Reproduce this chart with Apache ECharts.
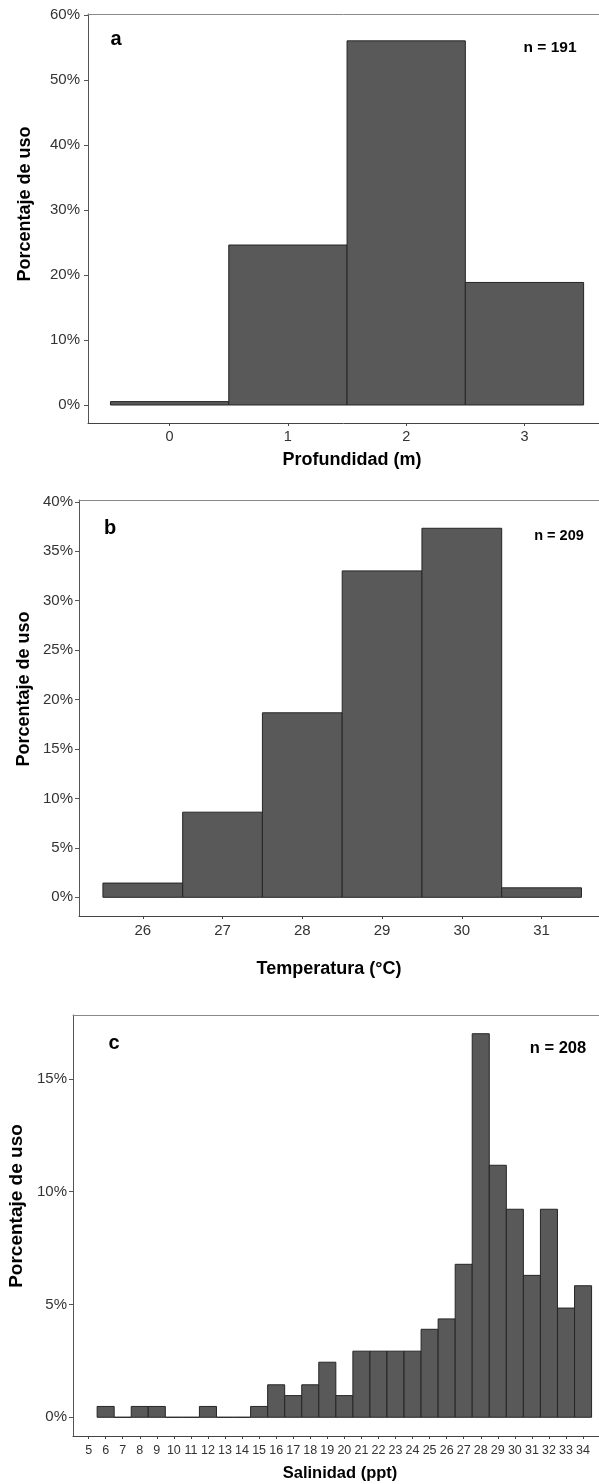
<!DOCTYPE html>
<html><head><meta charset="utf-8">
<script src="https://cdn.jsdelivr.net/npm/echarts@6/dist/echarts.min.js"></script>
<style>html,body{margin:0;padding:0;background:#fff}#c{width:599px;height:1484px}</style>
</head><body><div id="c"></div>
<script>
// Panel a: depth
const depthBins = [0, 1, 2, 3];
const depthPct = [0.52, 24.61, 56.02, 18.85];
const depthTicks = [0, 1, 2, 3];
const depthYTicks = [0, 10, 20, 30, 40, 50, 60];
// Panel b: temperature
const tempBins = [26, 27, 28, 29, 30, 31];
const tempPct = [1.44, 8.61, 18.66, 33.01, 37.32, 0.96];
const tempTicks = [26, 27, 28, 29, 30, 31];
const tempYTicks = [0, 5, 10, 15, 20, 25, 30, 35, 40];
// Panel c: salinity
const salBins = [6,7,8,9,10,11,12,13,14,15,16,17,18,19,20,21,22,23,24,25,26,27,28,29,30,31,32,33,34];
const salPct = [0.48,0,0.48,0.48,0,0,0.48,0,0,0.48,1.44,0.96,1.44,2.44,0.96,2.93,2.93,2.93,2.93,3.9,4.36,6.78,17.0,11.17,9.22,6.29,9.22,4.84,5.83];
const salTicks = [5,6,7,8,9,10,11,12,13,14,15,16,17,18,19,20,21,22,23,24,25,26,27,28,29,30,31,32,33,34];
const salYTicks = [0, 5, 10, 15];

const FONT = 'Liberation Sans';
const chart = echarts.init(document.getElementById('c'), null, {renderer: 'canvas'});

function bars(bins, vals, gi) {
  return {
    type: 'custom', xAxisIndex: gi * 2, yAxisIndex: gi,
    data: bins.map((b, i) => [b, vals[i]]),
    renderItem: function (params, api) {
      const x = api.value(0), y = api.value(1);
      const p1 = api.coord([x - 0.5, y]);
      const p2 = api.coord([x + 0.5, 0]);
      return {
        type: 'rect',
        shape: {x: p1[0], y: p1[1], width: p2[0] - p1[0], height: p2[1] - p1[1]},
        style: {fill: '#595959', stroke: '#262626', lineWidth: 1}
      };
    }
  };
}

function xBottom(gi, min, max, ticks, fs, margin) {
  return {
    type: 'value', gridIndex: gi, position: 'bottom', min: min, max: max,
    axisLine: {show: true, onZero: false, lineStyle: {color: '#444', width: 1}},
    axisTick: {show: true, length: 3, customValues: ticks, lineStyle: {color: '#444'}},
    axisLabel: {customValues: ticks, color: '#333', fontFamily: FONT, fontSize: fs, margin: margin},
    splitLine: {show: false}
  };
}
function xTop(gi, min, max) {
  return {
    type: 'value', gridIndex: gi, position: 'top', min: min, max: max,
    axisLine: {show: true, onZero: false, lineStyle: {color: '#888', width: 1}},
    axisTick: {show: false}, axisLabel: {show: false}, splitLine: {show: false}
  };
}
function yLeft(gi, min, max, ticks, margin) {
  return {
    type: 'value', gridIndex: gi, min: min, max: max,
    axisLine: {show: true, onZero: false, lineStyle: {color: '#555', width: 1}},
    axisTick: {show: true, length: 4, customValues: ticks, lineStyle: {color: '#555'}},
    axisLabel: {customValues: ticks, formatter: v => v + '%', color: '#333', fontFamily: FONT, fontSize: 15, margin: margin},
    splitLine: {show: false}
  };
}

function txt(x, y, s, size, rot) {
  return {
    type: 'text', x: x, y: y, rotation: rot || 0,
    style: {text: s, fill: '#000', font: 'bold ' + size + 'px "' + FONT + '"', align: 'center', verticalAlign: 'middle'}
  };
}

chart.setOption({
  animation: false,
  grid: [
    {left: 88, top: 14, right: 0, height: 409},
    {left: 79, top: 500, right: 0, height: 416},
    {left: 73, top: 1015, right: 0, height: 421}
  ],
  xAxis: [
    xBottom(0, -0.69, 3.63, depthTicks, 14.5, 6), xTop(0, -0.69, 3.63),
    xBottom(1, 25.2, 31.72, tempTicks, 15, 7), xTop(1, 25.2, 31.72),
    xBottom(2, 4.085, 34.935, salTicks, 12.5, 8), xTop(2, 4.085, 34.935)
  ],
  yAxis: [
    yLeft(0, -2.77, 60.15, depthYTicks, 8),
    yLeft(1, -1.89, 40.18, tempYTicks, 6),
    yLeft(2, -0.83, 17.83, salYTicks, 6)
  ],
  series: [
    bars(depthBins, depthPct, 0),
    bars(tempBins, tempPct, 1),
    bars(salBins, salPct, 2)
  ],
  graphic: [
    txt(116, 39, 'a', 20), txt(550, 48, 'n = 191', 15.5),
    txt(110, 528, 'b', 20), txt(559, 536, 'n = 209', 14.5),
    txt(114, 1043, 'c', 20), txt(558, 1048, 'n = 208', 16.5),
    txt(25, 204, 'Porcentaje de uso', 18, Math.PI / 2),
    txt(24, 689, 'Porcentaje de uso', 18, Math.PI / 2),
    txt(17, 1206, 'Porcentaje de uso', 19, Math.PI / 2),
    txt(352, 460, 'Profundidad (m)', 18),
    txt(329, 969, 'Temperatura (°C)', 18),
    txt(340, 1473, 'Salinidad (ppt)', 16.5)
  ]
});
</script></body></html>
